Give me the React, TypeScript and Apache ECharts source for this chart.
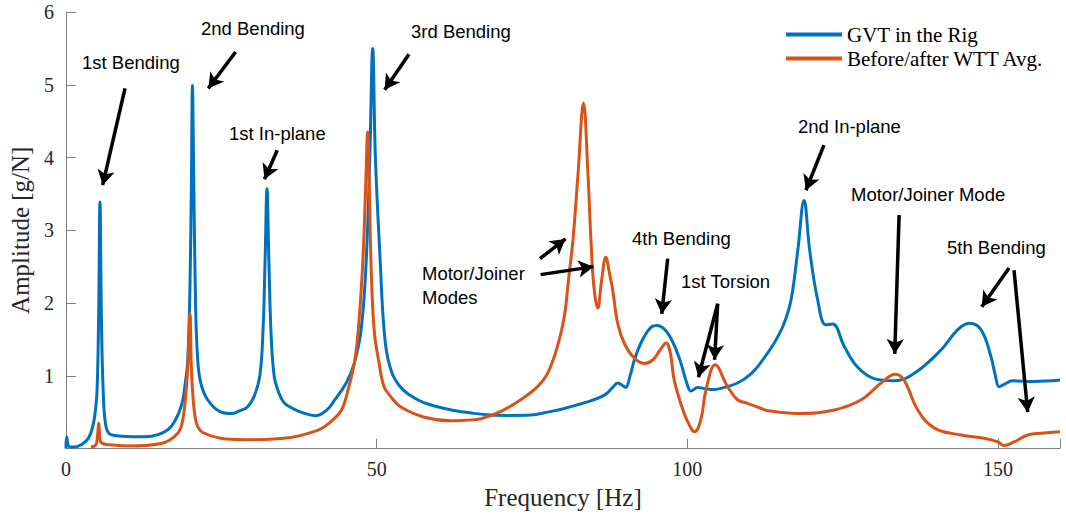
import React, { useEffect, useRef } from "react";
import * as echarts from "echarts";

// ---- data (frequency [Hz], amplitude [g/N]) ----
const gvtRig: [number, number][] = [
  [0, 0.0], [0.1, 0.16], [0.6, 0.02], [1.5, 0.02], [2.4, 0.05], [3.6, 0.14], [4.3, 0.3], [4.7, 0.5],
  [5.0, 0.8], [5.25, 1.8], [5.47, 3.39], [5.7, 1.8], [6.0, 0.76], [6.44, 0.3], [7.24, 0.19], [9, 0.17],
  [12.6, 0.16], [14.8, 0.19], [16.9, 0.3], [18.5, 0.57], [19.2, 0.9], [19.6, 1.22], [19.95, 2.2],
  [20.2, 3.8], [20.35, 4.99], [20.55, 3.8], [20.85, 2.0], [21.2, 1.22], [21.7, 0.9], [22.8, 0.67],
  [24.7, 0.51], [26.6, 0.48], [28, 0.52], [29.2, 0.57], [30.3, 0.72], [31.2, 1.0], [31.7, 1.6],
  [32.05, 2.6], [32.35, 3.57], [32.65, 2.6], [33.0, 1.6], [33.5, 1.0], [34.2, 0.78], [35.1, 0.63],
  [36.5, 0.55], [37.8, 0.5], [40.2, 0.45], [42, 0.53], [43.2, 0.66], [45.1, 0.9], [46.4, 1.17],
  [47.5, 1.63], [48.3, 2.54], [48.9, 4.0], [49.37, 5.5], [49.8, 4.0], [50.6, 2.54], [51.2, 1.63],
  [52.0, 1.17], [53.6, 0.87], [56.6, 0.67], [59.5, 0.58], [62, 0.53], [65, 0.49], [68.4, 0.46],
  [71.5, 0.455], [74.8, 0.46], [77.5, 0.5], [80.2, 0.55], [83.5, 0.63], [86.6, 0.73], [88.0, 0.84],
  [88.8, 0.9], [89.5, 0.87], [90.1, 0.84], [90.8, 1.0], [91.5, 1.22], [92.6, 1.46], [94.2, 1.67],
  [95.2, 1.69], [96.2, 1.65], [97.2, 1.54], [98.2, 1.36], [99.0, 1.17], [100.0, 0.88], [100.6, 0.79],
  [101.7, 0.84], [103, 0.82], [104.4, 0.81], [106, 0.84], [108.1, 0.9], [110.3, 1.03], [112, 1.2],
  [114, 1.45], [115.5, 1.7], [116.7, 2.04], [117.8, 2.73], [118.8, 3.41], [119.7, 2.73], [121, 2.04],
  [122.3, 1.7], [123.4, 1.71], [125.3, 1.4], [127.4, 1.12], [130.1, 0.96], [133.3, 0.93],
  [136.5, 1.03], [140.8, 1.35], [143.5, 1.63], [145.4, 1.72], [147.3, 1.63], [148.9, 1.26],
  [149.6, 1.0], [150.2, 0.85], [151.0, 0.88], [152.4, 0.93], [155.8, 0.92], [160, 0.94],
];

const wttAvg: [number, number][] = [
  [4.0, 0.02], [4.8, 0.05], [5.05, 0.15], [5.27, 0.35], [5.45, 0.15], [5.7, 0.08], [7, 0.05],
  [9.9, 0.035], [15.3, 0.07], [18.0, 0.21], [18.8, 0.4], [19.3, 0.76], [19.65, 1.2], [19.96, 1.86],
  [20.15, 1.2], [20.4, 0.76], [20.75, 0.45], [21.2, 0.3], [22, 0.22], [24.9, 0.14], [28.7, 0.12],
  [35.1, 0.14], [40.5, 0.25], [42.5, 0.36], [44.3, 0.52], [45.1, 0.71], [46.4, 1.17], [47.05, 1.63],
  [47.76, 2.54], [48.2, 3.5], [48.56, 4.35], [48.85, 3.5], [49.1, 2.54], [49.6, 1.63], [50.4, 1.17],
  [51.2, 0.85], [52.3, 0.71], [53.9, 0.57], [57.7, 0.43], [62, 0.38], [64.5, 0.39], [66.8, 0.41],
  [70.0, 0.51], [73.2, 0.67], [75.9, 0.85], [77.5, 1.03], [79.1, 1.4], [80.2, 1.81], [81.0, 2.41],
  [81.6, 2.86], [82.4, 3.75], [83.3, 4.75], [84.0, 3.8], [84.5, 2.86], [85.0, 2.2], [85.6, 1.93],
  [86.2, 2.3], [86.9, 2.63], [87.5, 2.4], [88.0, 2.18], [88.8, 1.72], [89.9, 1.44], [91.5, 1.24],
  [93.1, 1.17], [94.5, 1.22], [95.6, 1.35], [96.6, 1.45], [97.3, 1.3], [97.9, 0.94], [99.5, 0.48],
  [100.6, 0.28], [101.2, 0.23], [102.2, 0.4], [103.0, 0.8], [104.5, 1.15], [106.5, 0.85],
  [108.1, 0.67], [109.7, 0.62], [111.9, 0.55], [113, 0.52], [118.3, 0.48], [123.7, 0.53],
  [128, 0.67], [131.2, 0.9], [133.5, 1.02], [134.9, 0.94], [137.1, 0.53], [139.8, 0.28],
  [144.1, 0.185], [147.8, 0.14], [150, 0.09], [151, 0.04], [152.6, 0.09], [154.8, 0.185],
  [157, 0.21], [160, 0.23],
];

const seriesNames = ["GVT in the Rig", "Before/after WTT Avg."];
const xTicks = [0, 50, 100, 150];
const yTicks = [1, 2, 3, 4, 5, 6];

// annotation arrows: [tailX, tailY, headX, headY] in data units
const arrows: [number, number, number, number][] = [
  [9.5, 4.95, 5.9, 3.62],
  [27.3, 5.45, 22.9, 4.95],
  [34.0, 4.1, 31.95, 3.7],
  [55.2, 5.42, 51.3, 4.93],
  [76.3, 2.61, 80.4, 2.88],
  [76.4, 2.39, 84.9, 2.5],
  [96.85, 2.61, 95.9, 1.85],
  [104.9, 1.99, 101.8, 0.98],
  [104.9, 1.99, 104.4, 1.22],
  [122.0, 4.17, 119.1, 3.55],
  [134.1, 3.21, 133.4, 1.3],
  [151.8, 2.48, 147.4, 1.95],
  [152.6, 2.45, 154.8, 0.5],
];

// annotation labels with pixel anchors (left, centre-y)
const notes: [string, number, number][] = [
  ["1st Bending", 82, 62],
  ["2nd Bending", 201, 28],
  ["1st In-plane", 229, 133],
  ["3rd Bending", 411, 31],
  ["Motor/Joiner", 422, 273],
  ["Modes", 422, 297],
  ["4th Bending", 632, 238],
  ["1st Torsion", 681, 281],
  ["2nd In-plane", 798, 126],
  ["Motor/Joiner Mode", 851, 194],
  ["5th Bending", 947, 247],
];

const BLUE = "#0072BD";
const ORANGE = "#D95319";
const AXIS = "#808080";
const TXT = "#262626";
const SERIF = "'Liberation Serif', 'Times New Roman', serif";
const SANS = "'Liberation Sans', Arial, Helvetica, sans-serif";

export default function App() {
  const ref = useRef<HTMLDivElement>(null);
  useEffect(() => {
    if (!ref.current) return;
    const chart = echarts.init(ref.current, undefined, { renderer: "svg" });
    chart.setOption({
      animation: false,
      backgroundColor: "#ffffff",
      grid: { left: 66, right: 6, top: 12, bottom: 66.5, containLabel: false },
      legend: {
        orient: "vertical",
        left: 781,
        top: 19,
        itemWidth: 56,
        itemHeight: 4,
        itemGap: 3,
        icon: "rect",
        textStyle: { fontFamily: SERIF, fontSize: 21, color: "#000" },
        data: seriesNames,
      },
      xAxis: {
        type: "value",
        min: 0,
        max: 160,
        interval: 50,
        name: "Frequency [Hz]",
        nameLocation: "middle",
        nameGap: 36,
        nameTextStyle: { fontFamily: SERIF, fontSize: 25, color: TXT },
        axisLine: { show: true, lineStyle: { color: AXIS, width: 1 } },
        axisTick: { show: true, inside: true, length: 10, lineStyle: { color: AXIS } },
        axisLabel: {
          fontFamily: SERIF,
          fontSize: 20,
          color: TXT,
          margin: 10,
          formatter: (v: number) => (xTicks.includes(v) ? String(v) : ""),
        },
        splitLine: { show: false },
      },
      yAxis: {
        type: "value",
        min: 0,
        max: 6,
        interval: 1,
        name: "Amplitude [g/N]",
        nameLocation: "middle",
        nameGap: 32,
        nameTextStyle: { fontFamily: SERIF, fontSize: 25, color: TXT },
        axisLine: { show: true, lineStyle: { color: AXIS, width: 1 } },
        axisTick: { show: true, inside: true, length: 10, lineStyle: { color: AXIS } },
        axisLabel: {
          fontFamily: SERIF,
          fontSize: 20,
          color: TXT,
          margin: 12,
          formatter: (v: number) => (yTicks.includes(v) ? String(v) : ""),
        },
        splitLine: { show: false },
      },
      series: [
        {
          name: seriesNames[0],
          type: "line",
          data: gvtRig,
          showSymbol: false,
          smooth: 0.4,
          color: BLUE,
          lineStyle: { color: BLUE, width: 3 },
          z: 3,
        },
        {
          name: seriesNames[1],
          type: "line",
          data: wttAvg,
          showSymbol: false,
          smooth: 0.4,
          color: ORANGE,
          lineStyle: { color: ORANGE, width: 3 },
          z: 4,
          markLine: {
            silent: true,
            symbol: ["none", "arrow"],
            symbolSize: [13, 15],
            label: { show: false },
            lineStyle: { color: "#000", width: 3.5, type: "solid" },
            emphasis: { disabled: true },
            data: arrows.map(([x1, y1, x2, y2]) => [
              { coord: [x1, y1] },
              { coord: [x2, y2] },
            ]),
          },
        },
      ],
      graphic: notes.map(([t, x, y]) => ({
        type: "text",
        x,
        y,
        silent: true,
        style: {
          text: t,
          fontFamily: SANS,
          fontSize: 18.5,
          fill: "#000",
          textVerticalAlign: "middle",
          verticalAlign: "middle",
        },
      })),
    });
    return () => chart.dispose();
  }, []);
  return (
    <div
      ref={ref}
      style={{ position: "fixed", left: 0, top: 0, width: 1066, height: 515 }}
    />
  );
}
